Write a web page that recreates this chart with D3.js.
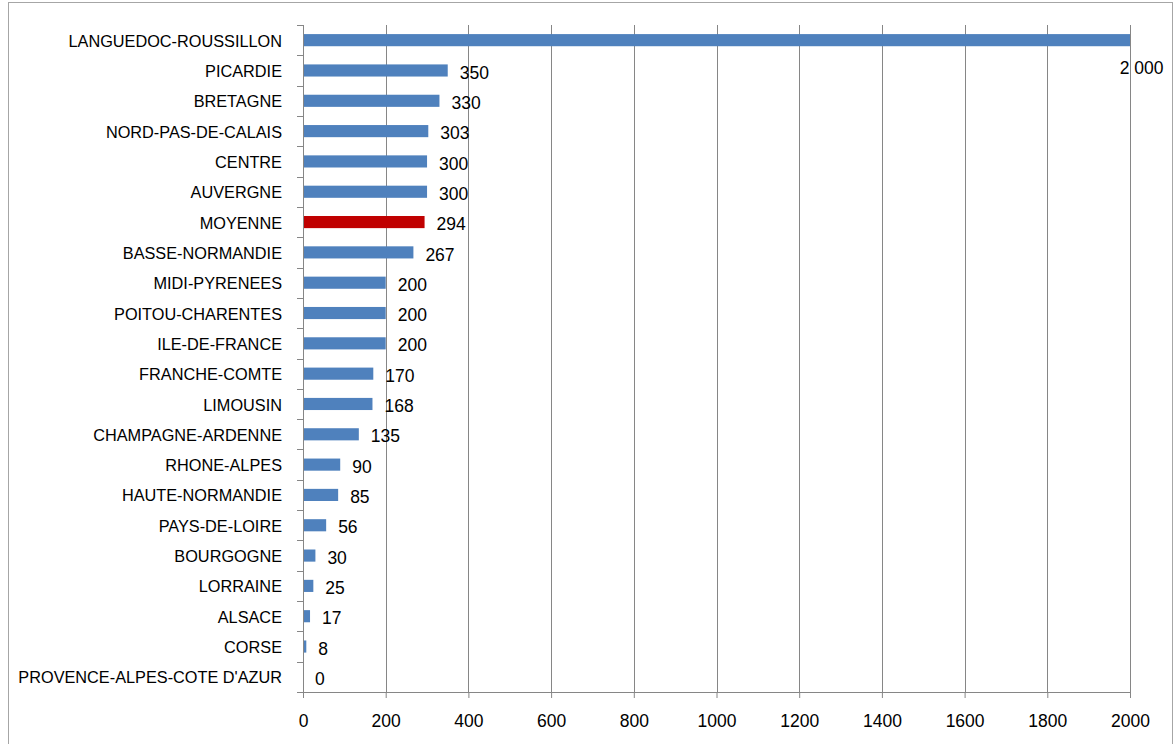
<!DOCTYPE html>
<html>
<head>
<meta charset="utf-8">
<script src="https://cdn.jsdelivr.net/npm/d3@7"></script>
<style>
  html, body { margin: 0; padding: 0; background: #fff; }
  svg { display: block; }
  text { font-family: "Liberation Sans", Arial, sans-serif; fill: #000; }
</style>
</head>
<body>
<svg id="chart" width="1174" height="744"></svg>
<script>
// Regions, ordered top to bottom as displayed
const regions = [
  "LANGUEDOC-ROUSSILLON", "PICARDIE", "BRETAGNE", "NORD-PAS-DE-CALAIS", "CENTRE",
  "AUVERGNE", "MOYENNE", "BASSE-NORMANDIE", "MIDI-PYRENEES", "POITOU-CHARENTES",
  "ILE-DE-FRANCE", "FRANCHE-COMTE", "LIMOUSIN", "CHAMPAGNE-ARDENNE", "RHONE-ALPES",
  "HAUTE-NORMANDIE", "PAYS-DE-LOIRE", "BOURGOGNE", "LORRAINE", "ALSACE", "CORSE",
  "PROVENCE-ALPES-COTE D'AZUR"
];
const values = [
  2000, 350, 330, 303, 300, 300, 294, 267, 200, 200, 200, 170, 168, 135, 90,
  85, 56, 30, 25, 17, 8, 0
];
const valueLabels = [
  "2 000", "350", "330", "303", "300", "300", "294", "267", "200", "200", "200",
  "170", "168", "135", "90", "85", "56", "30", "25", "17", "8", "0"
];
const highlighted = ["MOYENNE"];
const xTicks = [0, 200, 400, 600, 800, 1000, 1200, 1400, 1600, 1800, 2000];

const data = regions.map((r, i) => ({ region: r, value: values[i], label: valueLabels[i] }));

const svg = d3.select("#chart");
const frame = { left: 8.5, top: 2.5, right: 1172.5 };
const plot = { left: 303, right: 1130, top: 25, bottom: 692 };

// Outer chart frame
svg.append("rect")
  .attr("x", frame.left).attr("y", frame.top)
  .attr("width", frame.right - frame.left).attr("height", 760)
  .attr("fill", "#fff").attr("stroke", "#a6a6a6").attr("stroke-width", 1);

const x = d3.scaleLinear().domain([0, 2000]).range([plot.left, plot.right]);
const y = d3.scaleBand().domain(regions).range([plot.top, plot.bottom]).paddingInner(0.6).paddingOuter(0.3);

// Vertical gridlines
svg.append("g")
  .selectAll("line")
  .data(xTicks.filter(t => t > 0))
  .join("line")
  .attr("x1", d => Math.round(x(d)) + 0.5).attr("x2", d => Math.round(x(d)) + 0.5)
  .attr("y1", plot.top).attr("y2", plot.bottom)
  .attr("stroke", "#868686").attr("stroke-width", 1);

// Bars
svg.append("g")
  .selectAll("rect")
  .data(data)
  .join("rect")
  .attr("x", x(0) + 1)
  .attr("y", d => y(d.region))
  .attr("width", d => Math.max(0, x(d.value) - x(0) - 1))
  .attr("height", y.bandwidth())
  .attr("fill", d => highlighted.includes(d.region) ? "#c00000" : "#4f81bd");

// X axis
const xAxis = svg.append("g")
  .attr("transform", `translate(0,${plot.bottom})`)
  .call(d3.axisBottom(x).tickValues(xTicks).tickSize(6).tickPadding(17).tickFormat(d3.format("d")));
xAxis.select(".domain").attr("stroke", "#868686").attr("d", `M${plot.left},0.5H${plot.right}`);
xAxis.selectAll(".tick line").attr("stroke", "#868686");
xAxis.selectAll(".tick text")
  .attr("font-size", 17.5).attr("font-family", "Liberation Sans, Arial, sans-serif").attr("fill", "#000");

// Y axis: ticks mark band boundaries
const yAxis = svg.append("g")
  .attr("transform", `translate(${plot.left},0)`)
  .call(d3.axisLeft(y).tickSize(0).tickPadding(21));
yAxis.select(".domain").attr("stroke", "#868686").attr("d", `M0.5,${plot.top}V${plot.bottom}`);
yAxis.selectAll(".tick text")
  .attr("font-size", 16.3).attr("dy", "0.4em")
  .attr("font-family", "Liberation Sans, Arial, sans-serif").attr("fill", "#000");

const step = (plot.bottom - plot.top) / regions.length;
yAxis.append("g")
  .selectAll("line")
  .data(d3.range(regions.length + 1))
  .join("line")
  .attr("x1", -6).attr("x2", 0)
  .attr("y1", i => Math.round(plot.top + i * step) + 0.5)
  .attr("y2", i => Math.round(plot.top + i * step) + 0.5)
  .attr("stroke", "#868686");

// Value labels
svg.append("g")
  .selectAll("text")
  .data(data)
  .join("text")
  .attr("font-size", 17.5)
  .attr("dy", "0.35em")
  .text(d => d.label)
  .each(function (d) {
    const t = d3.select(this);
    const w = this.getComputedTextLength();
    const cy = y(d.region) + y.bandwidth() / 2 + 2;
    let lx = x(d.value) + 12;
    if (lx + w > frame.right - 5) {
      // Label does not fit beside the bar: tuck it under the bar end
      t.attr("x", frame.right - 9 - w).attr("y", cy + 26);
    } else {
      t.attr("x", lx).attr("y", cy);
    }
  });
</script>
</body>
</html>
